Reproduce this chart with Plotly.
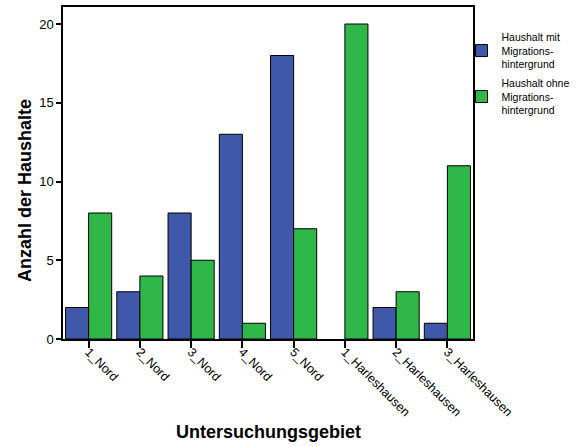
import plotly.graph_objects as go

categories = ["1_Nord", "2_Nord", "3_Nord", "4_Nord", "5_Nord",
              "1_Harleshausen", "2_Harleshausen", "3_Harleshausen"]
mit_migration = [2, 3, 8, 13, 18, None, 2, 1]
ohne_migration = [8, 4, 5, 1, 7, 20, 3, 11]
series_names = ["Haushalt mit<br>Migrations-<br>hintergrund",
                "Haushalt ohne<br>Migrations-<br>hintergrund"]
y_ticks = [0, 5, 10, 15, 20]

FONT = "Liberation Sans, Arial, sans-serif"

fig = go.Figure()
fig.add_trace(go.Bar(x=categories, y=mit_migration, name=series_names[0], legendgroup="a",
                     marker=dict(color="#3F58AA", line=dict(color="black", width=1))))
fig.add_trace(go.Bar(x=categories, y=ohne_migration, name=series_names[1], legendgroup="b",
                     marker=dict(color="#30B74A", line=dict(color="black", width=1))))

fig.update_layout(
    width=584, height=446,
    margin=dict(l=63, r=111, t=7, b=107),
    paper_bgcolor="white", plot_bgcolor="white",
    barmode="group", bargap=0.1, bargroupgap=0,
    font=dict(family=FONT, color="black", size=12),
    showlegend=True,
    legend=dict(x=0.972, y=0.95, xanchor="left", yanchor="top",
                font=dict(size=10.5, family=FONT), tracegroupgap=2, itemwidth=30,
                bgcolor="rgba(0,0,0,0)"),
    xaxis=dict(automargin=False,
               tickangle=45, ticks="outside", ticklen=7, tickwidth=1.5, tickcolor="black",
               showline=True, linecolor="black", linewidth=1.5, mirror=True,
               ticklabelstandoff=-8,
               tickfont=dict(size=12.5, family=FONT)),
    yaxis=dict(automargin=False,
               range=[0, 21.08], tickvals=y_ticks, ticks="outside", ticklen=5,
               tickwidth=1.5, tickcolor="black", showgrid=False, zeroline=False,
               showline=True, linecolor="black", linewidth=1.5, mirror=True,
               tickfont=dict(size=13, family=FONT)),
    annotations=[
        dict(text="<b>Untersuchungsgebiet</b>", xref="paper", yref="paper",
             x=0.5, y=-(432 - 339) / 332, xanchor="center", yanchor="middle",
             showarrow=False, font=dict(size=18, family=FONT)),
        dict(text="<b>Anzahl der Haushalte</b>", xref="paper", yref="paper",
             x=-(63 - 25) / 410, y=(339 - 191) / 332, xanchor="center", yanchor="middle",
             textangle=-90, showarrow=False, font=dict(size=18, family=FONT)),
    ],
)

fig.write_html("out.html", config={"displayModeBar": False},
               post_script="document.body.style.margin='0';document.body.style.overflow='hidden';")
